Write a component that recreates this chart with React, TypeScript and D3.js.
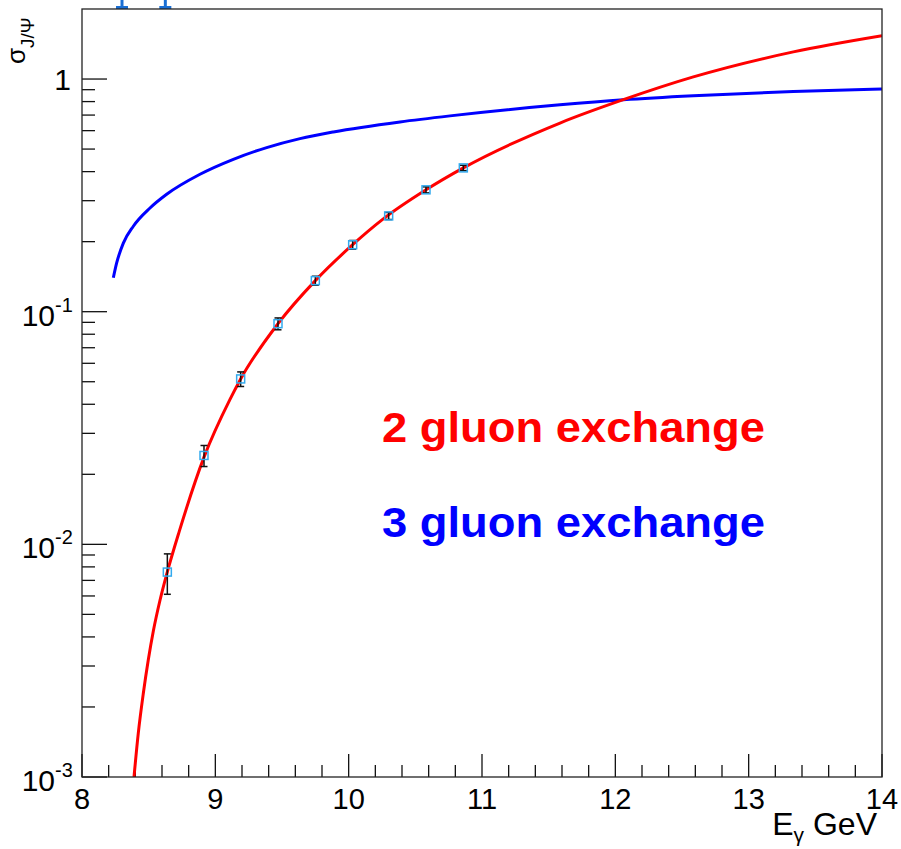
import { useEffect, useRef } from 'react'
import * as d3 from 'd3'

const W = 901
const H = 849
const frame = { left: 82, right: 882, top: 9, bottom: 777 }

const xTicks = [8, 9, 10, 11, 12, 13, 14]
const yTicks = [0.001, 0.01, 0.1, 1]
const yTickExp = ['-3', '-2', '-1', '']

// 2 gluon exchange curve (E, sigma)
const twoGluonE = [8.39, 8.422, 8.46, 8.497, 8.535, 8.585, 8.64, 8.73, 8.915, 9.11, 9.19, 9.47, 9.75, 10.03, 10.25, 10.58, 10.86, 11.585, 12.06, 12.585, 13.335, 14]
const twoGluonSigma = [0.001, 0.00154, 0.00229, 0.00318, 0.00424, 0.00575, 0.00762, 0.0114, 0.0237, 0.042, 0.0514, 0.0888, 0.136, 0.194, 0.248, 0.334, 0.415, 0.647, 0.815, 1.021, 1.308, 1.535]

// 3 gluon exchange curve
const threeGluonE = [8.235, 8.26, 8.31, 8.385, 8.51, 8.635, 8.885, 9.135, 9.385, 9.635, 9.885, 10.385, 10.76, 11.585, 12.06, 12.585, 13.335, 14]
const threeGluonSigma = [0.14, 0.162, 0.197, 0.233, 0.279, 0.3196, 0.3896, 0.4518, 0.5075, 0.5546, 0.5925, 0.6543, 0.6945, 0.7744, 0.8143, 0.8477, 0.8838, 0.9057]

// measured points
const dataE = [8.64, 8.915, 9.19, 9.47, 9.75, 10.03, 10.3, 10.58, 10.86]
const dataSigma = [0.0076, 0.0241, 0.0514, 0.0888, 0.136, 0.194, 0.258, 0.334, 0.415]
const dataErr = [0.0015, 0.0025, 0.0037, 0.0052, 0.006, 0.0083, 0.009, 0.01, 0.011]

// error-bar ends of points that lie above the frame
const offscaleE = [8.3, 8.625]
const offscaleLow = [2.03, 2.03]

const FONT = '"Liberation Sans", Arial, Helvetica, sans-serif'

export default function App() {
  const svgRef = useRef<SVGSVGElement>(null)

  useEffect(() => {
    const svg = d3.select(svgRef.current)
    svg.selectAll('*').remove()

    const x = d3.scaleLinear().domain([8, 14]).range([frame.left, frame.right])
    const y = d3.scaleLog().domain([0.001, 2]).range([frame.bottom, frame.top])

    svg.append('rect').attr('width', W).attr('height', H).attr('fill', '#fff')

    svg.append('defs').append('clipPath').attr('id', 'plotclip')
      .append('rect')
      .attr('x', frame.left).attr('y', frame.top)
      .attr('width', frame.right - frame.left).attr('height', frame.bottom - frame.top)

    // blue bits sticking out above the frame
    const off = svg.append('g').attr('stroke', '#1a6fd4').attr('stroke-width', 3)
    offscaleE.forEach((e, i) => {
      off.append('line')
        .attr('x1', x(e)).attr('x2', x(e))
        .attr('y1', 0).attr('y2', y(offscaleLow[i]))
      off.append('line')
        .attr('x1', x(e) - 6).attr('x2', x(e) + 6)
        .attr('y1', y(offscaleLow[i])).attr('y2', y(offscaleLow[i]))
    })

    // axes ticks
    const axis = svg.append('g').attr('stroke', '#111').attr('stroke-width', 1.3)
    xTicks.forEach(t => {
      axis.append('line').attr('x1', x(t)).attr('x2', x(t))
        .attr('y1', frame.bottom).attr('y2', frame.bottom - 23)
    })
    d3.range(8, 14, 0.2).forEach(t => {
      if (Math.abs(t - Math.round(t)) < 1e-6) return
      axis.append('line').attr('x1', x(t)).attr('x2', x(t))
        .attr('y1', frame.bottom).attr('y2', frame.bottom - 12)
    })
    yTicks.forEach(t => {
      axis.append('line').attr('x1', frame.left).attr('x2', frame.left + 25)
        .attr('y1', y(t)).attr('y2', y(t))
      for (let m = 2; m <= 9; m++) {
        const v = m * t
        if (v >= 2) break
        axis.append('line').attr('x1', frame.left).attr('x2', frame.left + 13)
          .attr('y1', y(v)).attr('y2', y(v))
      }
    })

    // curves
    const curves = svg.append('g').attr('clip-path', 'url(#plotclip)')
    const line = d3.line<[number, number]>()
      .x(d => x(d[0])).y(d => y(d[1]))
      .curve(d3.curveMonotoneX)

    curves.append('path')
      .attr('d', line(threeGluonE.map((e, i) => [e, threeGluonSigma[i]])))
      .attr('fill', 'none').attr('stroke', '#0000ff').attr('stroke-width', 3)

    curves.append('path')
      .attr('d', line(twoGluonE.map((e, i) => [e, twoGluonSigma[i]])))
      .attr('fill', 'none').attr('stroke', '#ff0000').attr('stroke-width', 3)

    // data points
    const pts = svg.append('g')
    dataE.forEach((e, i) => {
      const cx = x(e)
      const yl = y(dataSigma[i] - dataErr[i])
      const yh = y(dataSigma[i] + dataErr[i])
      pts.append('line').attr('x1', cx).attr('x2', cx).attr('y1', yl).attr('y2', yh)
        .attr('stroke', '#111').attr('stroke-width', 1.5)
      pts.append('line').attr('x1', cx - 3.5).attr('x2', cx + 3.5).attr('y1', yl).attr('y2', yl)
        .attr('stroke', '#111').attr('stroke-width', 1.5)
      pts.append('line').attr('x1', cx - 3.5).attr('x2', cx + 3.5).attr('y1', yh).attr('y2', yh)
        .attr('stroke', '#111').attr('stroke-width', 1.5)
      pts.append('rect')
        .attr('x', cx - 4).attr('y', y(dataSigma[i]) - 4)
        .attr('width', 8).attr('height', 8)
        .attr('fill', 'none').attr('stroke', '#33aaee').attr('stroke-width', 1.5)
    })

    // frame
    svg.append('rect')
      .attr('x', frame.left).attr('y', frame.top)
      .attr('width', frame.right - frame.left).attr('height', frame.bottom - frame.top)
      .attr('fill', 'none').attr('stroke', '#222').attr('stroke-width', 1.3)

    // tick labels
    const labels = svg.append('g').attr('font-family', FONT).attr('fill', '#000')
    xTicks.forEach(t => {
      labels.append('text').attr('x', x(t)).attr('y', 809)
        .attr('text-anchor', 'middle').attr('font-size', 29).text(t)
    })
    yTicks.forEach((t, i) => {
      const ty = y(t)
      if (yTickExp[i] === '') {
        labels.append('text').attr('x', 71).attr('y', ty + 11)
          .attr('text-anchor', 'end').attr('font-size', 30).text('1')
      } else {
        labels.append('text').attr('x', 55).attr('y', ty + 14)
          .attr('text-anchor', 'end').attr('font-size', 30).text('10')
        labels.append('text').attr('x', 55).attr('y', ty)
          .attr('text-anchor', 'start').attr('font-size', 20).text(yTickExp[i])
      }
    })

    // axis titles
    const xt = labels.append('text').attr('x', 877).attr('y', 835)
      .attr('text-anchor', 'end').attr('font-size', 32)
    xt.append('tspan').text('E')
    xt.append('tspan').attr('font-size', 21).attr('dy', 7).text('γ')
    xt.append('tspan').attr('dy', -7).text(' GeV')

    const yt = labels.append('text')
      .attr('transform', 'translate(25,64) rotate(-90)')
      .attr('text-anchor', 'start').attr('font-size', 26)
    yt.append('tspan').text('σ')
    yt.append('tspan').attr('font-size', 19).attr('dy', 9).text('J/Ψ')

    // legend texts
    labels.append('text').attr('x', 382).attr('y', 442)
      .attr('font-size', 43).attr('font-weight', 'bold').attr('fill', '#ff0000')
      .attr('textLength', 383).attr('lengthAdjust', 'spacingAndGlyphs')
      .text('2 gluon exchange')
    labels.append('text').attr('x', 382).attr('y', 537)
      .attr('font-size', 43).attr('font-weight', 'bold').attr('fill', '#0000ff')
      .attr('textLength', 383).attr('lengthAdjust', 'spacingAndGlyphs')
      .text('3 gluon exchange')
  }, [])

  return (
    <div style={{ position: 'absolute', left: 0, top: 0 }}>
      <svg ref={svgRef} width={W} height={H} style={{ display: 'block' }} />
    </div>
  )
}
